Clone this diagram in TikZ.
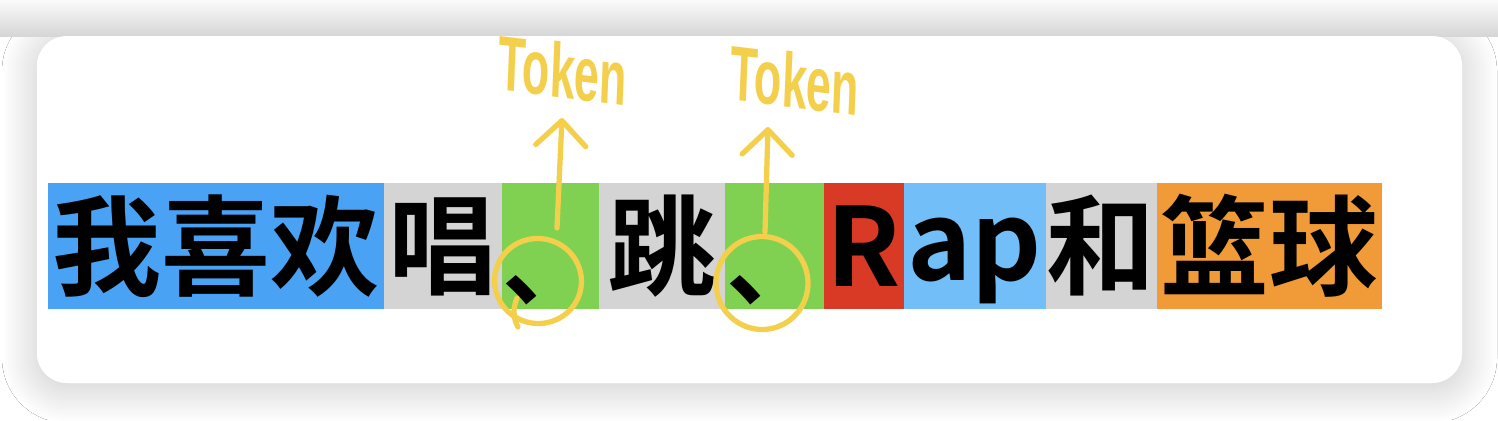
\documentclass[tikz,border=0pt]{standalone}
\usepackage{fontspec}
\usepackage{tikz}
\usetikzlibrary{positioning,arrows.meta,shadows.blur,shapes.geometric}
\newfontfamily\cjk[BoldFont={Noto Sans CJK SC Bold}]{Noto Sans CJK SC}
\newfontfamily\hand{Liberation Sans}
\definecolor{tokblue}{HTML}{4AA2F4}
\definecolor{tokgray}{HTML}{D4D4D4}
\definecolor{tokgreen}{HTML}{80D152}
\definecolor{tokred}{HTML}{D93A26}
\definecolor{toksky}{HTML}{72BEF8}
\definecolor{tokorange}{HTML}{F09A38}
\definecolor{marker}{HTML}{F4CF4B}
\newcommand{\tk}[1]{\makebox[0pt]{\vphantom{我}#1}}
\newcommand{\dunhao}{\raisebox{-0.24cm}[0pt][0pt]{\fontsize{54}{54}\selectfont 、}}

\begin{document}
\begin{tikzpicture}[x=0.02cm, y=-0.02cm,
        tok/.style={rectangle, fill=#1, minimum height=2.52cm, inner sep=0pt,
        outer sep=0pt, font=\cjk\bfseries\fontsize{62}{62}\selectfont},
        tokenlabel/.style={font=\hand\bfseries\fontsize{44}{44}\selectfont,
        text=marker, xscale=0.58, inner sep=0pt},
        ring/.style={ellipse, draw=marker, line width=3pt, inner sep=0pt},
        pointer/.style={-{Straight Barb[length=0.5cm, width=1cm, round]},
        line width=3pt, marker, line cap=round},
      ]
      \useasboundingbox (0,0) rectangle (1498,420);
      \fill[white] (0,0) rectangle (1498,420);
      \fill[white, rounded corners=0.6cm, blur shadow={shadow xshift=0pt,
      shadow yshift=-0.1cm, shadow blur radius=0.7cm, shadow blur steps=40,
      shadow opacity=22}]
      (37,36) rectangle (1462,383);
      \shade[top color=white!98!black, bottom color=white!84!black]
      (0,0) rectangle (1498,36);
      \fill[white, rounded corners=0.6cm] (37,36) rectangle (1462,383);

      % tokens
      \node[tok=tokblue, minimum width=6.72cm, anchor=west] (woxh) at (48,246)
      {\tk{我喜欢}};
      \node[tok=tokgray, minimum width=2.36cm, right=0pt of woxh] (chang)
      {\tk{唱}};
      \node[tok=tokgreen, minimum width=1.94cm, right=0pt of chang] (dun1)
      {\tk{\dunhao}};
      \node[tok=tokgray, minimum width=2.52cm, right=0pt of dun1] (tiao)
      {\tk{跳}};
      \node[tok=tokgreen, minimum width=1.98cm, right=0pt of tiao] (dun2)
      {\tk{\dunhao}};
      \node[tok=tokred, minimum width=1.6cm, right=0pt of dun2] (rr)
      {\tk{R}};
      \node[tok=toksky, minimum width=2.84cm, right=0pt of rr] (ap)
      {\tk{ap}};
      \node[tok=tokgray, minimum width=2.22cm, right=0pt of ap] (he)
      {\tk{和}};
      \node[tok=tokorange, minimum width=4.5cm, right=0pt of he] (lanqiu)
      {\tk{篮球}};

      % marks
      \node[ring, minimum width=1.74cm, minimum height=1.7cm, rotate=-10] (ring1)
      at (538,281) {};
      \node[ring, minimum width=1.84cm, minimum height=1.86cm, rotate=8] (ring2)
      at (762,283) {};
      \draw[marker, line width=3pt, line cap=round]
      (517,298) .. controls (512,310) and (514,320) .. (518,327);

      \node[tokenlabel, rotate=-4] (lab1) at (563,70) {Token};
      \node[tokenlabel, rotate=-4] (lab2) at (795,80) {Token};

      \coordinate (foot1) at (557,228);
      \coordinate (foot2) at (765,232);
      \coordinate (tip1) at (562,118);
      \coordinate (tip2) at (768,127);
      \draw[pointer] (foot1) -- (tip1);
      \draw[pointer] (foot2) -- (tip2);
    \end{tikzpicture}
\end{document}
